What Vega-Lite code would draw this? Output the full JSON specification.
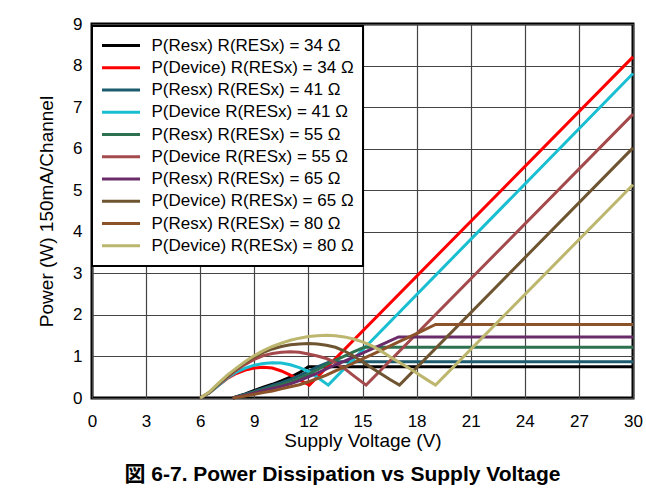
{
  "$schema": "https://vega.github.io/schema/vega-lite/v6.json",
  "width": 541,
  "height": 374,
  "autosize": {"type": "none"},
  "padding": {"left": 92, "top": 24, "right": 13, "bottom": 94},
  "background": "white",
  "title": {
    "text": "図 6-7. Power Dissipation vs Supply Voltage",
    "orient": "bottom",
    "anchor": "middle",
    "frame": "group",
    "dx": -20,
    "offset": 14,
    "fontSize": 21,
    "fontWeight": "bold",
    "font": "Liberation Sans, Noto Sans CJK JP",
    "color": "black"
  },
  "config": {
    "font": "Liberation Sans",
    "view": {"stroke": "black", "strokeWidth": 3},
    "axis": {
      "labelFont": "Liberation Sans",
      "labelFontSize": 17,
      "labelColor": "black",
      "titleFont": "Liberation Sans",
      "titleFontSize": 19,
      "titleFontWeight": "normal",
      "titleColor": "black",
      "gridColor": "#444444",
      "gridWidth": 1.2,
      "gridOpacity": 1,
      "ticks": false,
      "tickSize": 0,
      "domain": false
    }
  },
  "data": {
    "values": [
      {"s": "P(Resx) R(RESx) = 34 Ω", "v": 7.8, "p": 0},
      {"s": "P(Resx) R(RESx) = 34 Ω", "v": 8.5, "p": 0.1},
      {"s": "P(Resx) R(RESx) = 34 Ω", "v": 9, "p": 0.18},
      {"s": "P(Resx) R(RESx) = 34 Ω", "v": 9.5, "p": 0.26},
      {"s": "P(Resx) R(RESx) = 34 Ω", "v": 10, "p": 0.33},
      {"s": "P(Resx) R(RESx) = 34 Ω", "v": 10.5, "p": 0.41},
      {"s": "P(Resx) R(RESx) = 34 Ω", "v": 11, "p": 0.5},
      {"s": "P(Resx) R(RESx) = 34 Ω", "v": 11.5, "p": 0.61},
      {"s": "P(Resx) R(RESx) = 34 Ω", "v": 12, "p": 0.75},
      {"s": "P(Resx) R(RESx) = 34 Ω", "v": 30, "p": 0.75},

      {"s": "P(Device) R(RESx) = 34 Ω", "v": 6, "p": 0},
      {"s": "P(Device) R(RESx) = 34 Ω", "v": 6.5, "p": 0.12},
      {"s": "P(Device) R(RESx) = 34 Ω", "v": 7, "p": 0.3},
      {"s": "P(Device) R(RESx) = 34 Ω", "v": 7.5, "p": 0.47},
      {"s": "P(Device) R(RESx) = 34 Ω", "v": 8, "p": 0.59},
      {"s": "P(Device) R(RESx) = 34 Ω", "v": 8.5, "p": 0.67},
      {"s": "P(Device) R(RESx) = 34 Ω", "v": 9, "p": 0.72},
      {"s": "P(Device) R(RESx) = 34 Ω", "v": 9.5, "p": 0.74},
      {"s": "P(Device) R(RESx) = 34 Ω", "v": 10, "p": 0.72},
      {"s": "P(Device) R(RESx) = 34 Ω", "v": 10.5, "p": 0.65},
      {"s": "P(Device) R(RESx) = 34 Ω", "v": 11, "p": 0.55},
      {"s": "P(Device) R(RESx) = 34 Ω", "v": 11.5, "p": 0.44},
      {"s": "P(Device) R(RESx) = 34 Ω", "v": 12.05, "p": 0.31},
      {"s": "P(Device) R(RESx) = 34 Ω", "v": 30, "p": 8.21},

      {"s": "P(Resx) R(RESx) = 41 Ω", "v": 7.8, "p": 0},
      {"s": "P(Resx) R(RESx) = 41 Ω", "v": 8.5, "p": 0.09},
      {"s": "P(Resx) R(RESx) = 41 Ω", "v": 9, "p": 0.16},
      {"s": "P(Resx) R(RESx) = 41 Ω", "v": 9.5, "p": 0.23},
      {"s": "P(Resx) R(RESx) = 41 Ω", "v": 10, "p": 0.3},
      {"s": "P(Resx) R(RESx) = 41 Ω", "v": 10.5, "p": 0.37},
      {"s": "P(Resx) R(RESx) = 41 Ω", "v": 11, "p": 0.45},
      {"s": "P(Resx) R(RESx) = 41 Ω", "v": 11.5, "p": 0.54},
      {"s": "P(Resx) R(RESx) = 41 Ω", "v": 12, "p": 0.64},
      {"s": "P(Resx) R(RESx) = 41 Ω", "v": 12.5, "p": 0.75},
      {"s": "P(Resx) R(RESx) = 41 Ω", "v": 13.2, "p": 0.87},
      {"s": "P(Resx) R(RESx) = 41 Ω", "v": 30, "p": 0.87},

      {"s": "P(Device R(RESx) = 41 Ω", "v": 6, "p": 0},
      {"s": "P(Device R(RESx) = 41 Ω", "v": 6.5, "p": 0.12},
      {"s": "P(Device R(RESx) = 41 Ω", "v": 7, "p": 0.3},
      {"s": "P(Device R(RESx) = 41 Ω", "v": 7.5, "p": 0.48},
      {"s": "P(Device R(RESx) = 41 Ω", "v": 8, "p": 0.62},
      {"s": "P(Device R(RESx) = 41 Ω", "v": 8.5, "p": 0.72},
      {"s": "P(Device R(RESx) = 41 Ω", "v": 9, "p": 0.79},
      {"s": "P(Device R(RESx) = 41 Ω", "v": 9.5, "p": 0.83},
      {"s": "P(Device R(RESx) = 41 Ω", "v": 10, "p": 0.85},
      {"s": "P(Device R(RESx) = 41 Ω", "v": 10.5, "p": 0.84},
      {"s": "P(Device R(RESx) = 41 Ω", "v": 11, "p": 0.8},
      {"s": "P(Device R(RESx) = 41 Ω", "v": 11.5, "p": 0.73},
      {"s": "P(Device R(RESx) = 41 Ω", "v": 12, "p": 0.64},
      {"s": "P(Device R(RESx) = 41 Ω", "v": 12.5, "p": 0.5},
      {"s": "P(Device R(RESx) = 41 Ω", "v": 13.1, "p": 0.31},
      {"s": "P(Device R(RESx) = 41 Ω", "v": 30, "p": 7.81},

      {"s": "P(Resx) R(RESx) = 55 Ω", "v": 7.8, "p": 0},
      {"s": "P(Resx) R(RESx) = 55 Ω", "v": 8.5, "p": 0.08},
      {"s": "P(Resx) R(RESx) = 55 Ω", "v": 9, "p": 0.14},
      {"s": "P(Resx) R(RESx) = 55 Ω", "v": 9.5, "p": 0.2},
      {"s": "P(Resx) R(RESx) = 55 Ω", "v": 10, "p": 0.26},
      {"s": "P(Resx) R(RESx) = 55 Ω", "v": 10.5, "p": 0.32},
      {"s": "P(Resx) R(RESx) = 55 Ω", "v": 11, "p": 0.39},
      {"s": "P(Resx) R(RESx) = 55 Ω", "v": 11.5, "p": 0.47},
      {"s": "P(Resx) R(RESx) = 55 Ω", "v": 12, "p": 0.57},
      {"s": "P(Resx) R(RESx) = 55 Ω", "v": 12.5, "p": 0.68},
      {"s": "P(Resx) R(RESx) = 55 Ω", "v": 13, "p": 0.8},
      {"s": "P(Resx) R(RESx) = 55 Ω", "v": 13.5, "p": 0.91},
      {"s": "P(Resx) R(RESx) = 55 Ω", "v": 14, "p": 1.01},
      {"s": "P(Resx) R(RESx) = 55 Ω", "v": 14.5, "p": 1.11},
      {"s": "P(Resx) R(RESx) = 55 Ω", "v": 15.1, "p": 1.22},
      {"s": "P(Resx) R(RESx) = 55 Ω", "v": 30, "p": 1.22},

      {"s": "P(Device R(RESx) = 55 Ω", "v": 6, "p": 0},
      {"s": "P(Device R(RESx) = 55 Ω", "v": 6.5, "p": 0.13},
      {"s": "P(Device R(RESx) = 55 Ω", "v": 7, "p": 0.32},
      {"s": "P(Device R(RESx) = 55 Ω", "v": 7.5, "p": 0.5},
      {"s": "P(Device R(RESx) = 55 Ω", "v": 8, "p": 0.67},
      {"s": "P(Device R(RESx) = 55 Ω", "v": 8.5, "p": 0.81},
      {"s": "P(Device R(RESx) = 55 Ω", "v": 9, "p": 0.93},
      {"s": "P(Device R(RESx) = 55 Ω", "v": 9.5, "p": 1.02},
      {"s": "P(Device R(RESx) = 55 Ω", "v": 10, "p": 1.07},
      {"s": "P(Device R(RESx) = 55 Ω", "v": 10.5, "p": 1.1},
      {"s": "P(Device R(RESx) = 55 Ω", "v": 11, "p": 1.11},
      {"s": "P(Device R(RESx) = 55 Ω", "v": 11.5, "p": 1.1},
      {"s": "P(Device R(RESx) = 55 Ω", "v": 12, "p": 1.06},
      {"s": "P(Device R(RESx) = 55 Ω", "v": 12.5, "p": 1.01},
      {"s": "P(Device R(RESx) = 55 Ω", "v": 13, "p": 0.95},
      {"s": "P(Device R(RESx) = 55 Ω", "v": 13.5, "p": 0.85},
      {"s": "P(Device R(RESx) = 55 Ω", "v": 14, "p": 0.71},
      {"s": "P(Device R(RESx) = 55 Ω", "v": 14.5, "p": 0.54},
      {"s": "P(Device R(RESx) = 55 Ω", "v": 15.2, "p": 0.31},
      {"s": "P(Device R(RESx) = 55 Ω", "v": 30, "p": 6.83},

      {"s": "P(Resx) R(RESx) = 65 Ω", "v": 7.8, "p": 0},
      {"s": "P(Resx) R(RESx) = 65 Ω", "v": 8.5, "p": 0.07},
      {"s": "P(Resx) R(RESx) = 65 Ω", "v": 9, "p": 0.12},
      {"s": "P(Resx) R(RESx) = 65 Ω", "v": 9.5, "p": 0.18},
      {"s": "P(Resx) R(RESx) = 65 Ω", "v": 10, "p": 0.23},
      {"s": "P(Resx) R(RESx) = 65 Ω", "v": 10.5, "p": 0.28},
      {"s": "P(Resx) R(RESx) = 65 Ω", "v": 11, "p": 0.34},
      {"s": "P(Resx) R(RESx) = 65 Ω", "v": 11.5, "p": 0.42},
      {"s": "P(Resx) R(RESx) = 65 Ω", "v": 12, "p": 0.51},
      {"s": "P(Resx) R(RESx) = 65 Ω", "v": 12.5, "p": 0.6},
      {"s": "P(Resx) R(RESx) = 65 Ω", "v": 13, "p": 0.7},
      {"s": "P(Resx) R(RESx) = 65 Ω", "v": 13.5, "p": 0.8},
      {"s": "P(Resx) R(RESx) = 65 Ω", "v": 14, "p": 0.89},
      {"s": "P(Resx) R(RESx) = 65 Ω", "v": 15, "p": 1.08},
      {"s": "P(Resx) R(RESx) = 65 Ω", "v": 16, "p": 1.27},
      {"s": "P(Resx) R(RESx) = 65 Ω", "v": 17, "p": 1.47},
      {"s": "P(Resx) R(RESx) = 65 Ω", "v": 30, "p": 1.47},

      {"s": "P(Device) R(RESx) = 65 Ω", "v": 6, "p": 0},
      {"s": "P(Device) R(RESx) = 65 Ω", "v": 6.5, "p": 0.13},
      {"s": "P(Device) R(RESx) = 65 Ω", "v": 7, "p": 0.33},
      {"s": "P(Device) R(RESx) = 65 Ω", "v": 7.5, "p": 0.52},
      {"s": "P(Device) R(RESx) = 65 Ω", "v": 8, "p": 0.7},
      {"s": "P(Device) R(RESx) = 65 Ω", "v": 8.5, "p": 0.86},
      {"s": "P(Device) R(RESx) = 65 Ω", "v": 9, "p": 0.99},
      {"s": "P(Device) R(RESx) = 65 Ω", "v": 9.5, "p": 1.1},
      {"s": "P(Device) R(RESx) = 65 Ω", "v": 10, "p": 1.18},
      {"s": "P(Device) R(RESx) = 65 Ω", "v": 10.5, "p": 1.24},
      {"s": "P(Device) R(RESx) = 65 Ω", "v": 11, "p": 1.28},
      {"s": "P(Device) R(RESx) = 65 Ω", "v": 11.5, "p": 1.3},
      {"s": "P(Device) R(RESx) = 65 Ω", "v": 12, "p": 1.31},
      {"s": "P(Device) R(RESx) = 65 Ω", "v": 12.5, "p": 1.3},
      {"s": "P(Device) R(RESx) = 65 Ω", "v": 13, "p": 1.27},
      {"s": "P(Device) R(RESx) = 65 Ω", "v": 13.5, "p": 1.22},
      {"s": "P(Device) R(RESx) = 65 Ω", "v": 14, "p": 1.13},
      {"s": "P(Device) R(RESx) = 65 Ω", "v": 14.5, "p": 1.01},
      {"s": "P(Device) R(RESx) = 65 Ω", "v": 15, "p": 0.87},
      {"s": "P(Device) R(RESx) = 65 Ω", "v": 15.5, "p": 0.73},
      {"s": "P(Device) R(RESx) = 65 Ω", "v": 16, "p": 0.59},
      {"s": "P(Device) R(RESx) = 65 Ω", "v": 16.5, "p": 0.45},
      {"s": "P(Device) R(RESx) = 65 Ω", "v": 17.05, "p": 0.31},
      {"s": "P(Device) R(RESx) = 65 Ω", "v": 30, "p": 6.02},

      {"s": "P(Resx) R(RESx) = 80 Ω", "v": 7.8, "p": 0},
      {"s": "P(Resx) R(RESx) = 80 Ω", "v": 8.5, "p": 0.05},
      {"s": "P(Resx) R(RESx) = 80 Ω", "v": 9, "p": 0.09},
      {"s": "P(Resx) R(RESx) = 80 Ω", "v": 9.5, "p": 0.13},
      {"s": "P(Resx) R(RESx) = 80 Ω", "v": 10, "p": 0.17},
      {"s": "P(Resx) R(RESx) = 80 Ω", "v": 10.5, "p": 0.22},
      {"s": "P(Resx) R(RESx) = 80 Ω", "v": 11, "p": 0.27},
      {"s": "P(Resx) R(RESx) = 80 Ω", "v": 11.5, "p": 0.32},
      {"s": "P(Resx) R(RESx) = 80 Ω", "v": 12, "p": 0.39},
      {"s": "P(Resx) R(RESx) = 80 Ω", "v": 12.5, "p": 0.47},
      {"s": "P(Resx) R(RESx) = 80 Ω", "v": 13, "p": 0.55},
      {"s": "P(Resx) R(RESx) = 80 Ω", "v": 13.5, "p": 0.65},
      {"s": "P(Resx) R(RESx) = 80 Ω", "v": 14, "p": 0.74},
      {"s": "P(Resx) R(RESx) = 80 Ω", "v": 15, "p": 0.94},
      {"s": "P(Resx) R(RESx) = 80 Ω", "v": 16, "p": 1.14},
      {"s": "P(Resx) R(RESx) = 80 Ω", "v": 17, "p": 1.35},
      {"s": "P(Resx) R(RESx) = 80 Ω", "v": 18, "p": 1.55},
      {"s": "P(Resx) R(RESx) = 80 Ω", "v": 19.05, "p": 1.77},
      {"s": "P(Resx) R(RESx) = 80 Ω", "v": 30, "p": 1.77},

      {"s": "P(Device) R(RESx) = 80 Ω", "v": 6, "p": 0},
      {"s": "P(Device) R(RESx) = 80 Ω", "v": 6.5, "p": 0.14},
      {"s": "P(Device) R(RESx) = 80 Ω", "v": 7, "p": 0.35},
      {"s": "P(Device) R(RESx) = 80 Ω", "v": 7.5, "p": 0.55},
      {"s": "P(Device) R(RESx) = 80 Ω", "v": 8, "p": 0.72},
      {"s": "P(Device) R(RESx) = 80 Ω", "v": 8.5, "p": 0.88},
      {"s": "P(Device) R(RESx) = 80 Ω", "v": 9, "p": 1.02},
      {"s": "P(Device) R(RESx) = 80 Ω", "v": 9.5, "p": 1.14},
      {"s": "P(Device) R(RESx) = 80 Ω", "v": 10, "p": 1.24},
      {"s": "P(Device) R(RESx) = 80 Ω", "v": 10.5, "p": 1.32},
      {"s": "P(Device) R(RESx) = 80 Ω", "v": 11, "p": 1.39},
      {"s": "P(Device) R(RESx) = 80 Ω", "v": 11.5, "p": 1.44},
      {"s": "P(Device) R(RESx) = 80 Ω", "v": 12, "p": 1.48},
      {"s": "P(Device) R(RESx) = 80 Ω", "v": 12.5, "p": 1.5},
      {"s": "P(Device) R(RESx) = 80 Ω", "v": 13, "p": 1.51},
      {"s": "P(Device) R(RESx) = 80 Ω", "v": 13.5, "p": 1.5},
      {"s": "P(Device) R(RESx) = 80 Ω", "v": 14, "p": 1.47},
      {"s": "P(Device) R(RESx) = 80 Ω", "v": 14.5, "p": 1.42},
      {"s": "P(Device) R(RESx) = 80 Ω", "v": 15, "p": 1.35},
      {"s": "P(Device) R(RESx) = 80 Ω", "v": 15.5, "p": 1.26},
      {"s": "P(Device) R(RESx) = 80 Ω", "v": 16, "p": 1.14},
      {"s": "P(Device) R(RESx) = 80 Ω", "v": 16.5, "p": 1.0},
      {"s": "P(Device) R(RESx) = 80 Ω", "v": 17, "p": 0.87},
      {"s": "P(Device) R(RESx) = 80 Ω", "v": 17.5, "p": 0.74},
      {"s": "P(Device) R(RESx) = 80 Ω", "v": 18, "p": 0.6},
      {"s": "P(Device) R(RESx) = 80 Ω", "v": 18.5, "p": 0.46},
      {"s": "P(Device) R(RESx) = 80 Ω", "v": 19.05, "p": 0.31},
      {"s": "P(Device) R(RESx) = 80 Ω", "v": 30, "p": 5.13}
    ]
  },
  "mark": {"type": "line", "strokeWidth": 3, "interpolate": "linear"},
  "encoding": {
    "x": {
      "field": "v",
      "type": "quantitative",
      "scale": {"domain": [0, 30], "nice": false, "zero": false},
      "axis": {
        "values": [0, 3, 6, 9, 12, 15, 18, 21, 24, 27, 30],
        "title": "Supply Voltage (V)",
        "labelPadding": 15,
        "titlePadding": 2,
        "labelFlush": false
      }
    },
    "y": {
      "field": "p",
      "type": "quantitative",
      "scale": {"domain": [0, 9], "nice": false},
      "axis": {
        "values": [0, 1, 2, 3, 4, 5, 6, 7, 8, 9],
        "title": "Power (W) 150mA/Channel",
        "labelPadding": 10,
        "titlePadding": 16,
        "labelFlush": false
      }
    },
    "color": {
      "field": "s",
      "type": "nominal",
      "scale": {
        "domain": [
          "P(Resx) R(RESx) = 34 Ω",
          "P(Device) R(RESx) = 34 Ω",
          "P(Resx) R(RESx) = 41 Ω",
          "P(Device R(RESx) = 41 Ω",
          "P(Resx) R(RESx) = 55 Ω",
          "P(Device R(RESx) = 55 Ω",
          "P(Resx) R(RESx) = 65 Ω",
          "P(Device) R(RESx) = 65 Ω",
          "P(Resx) R(RESx) = 80 Ω",
          "P(Device) R(RESx) = 80 Ω"
        ],
        "range": ["#000000", "#ff0000", "#1d5c6e", "#19bfd0", "#2e7151", "#a44a4c", "#6a2c68", "#6e5430", "#8c522a", "#bcb66e"]
      },
      "legend": {
        "title": null,
        "orient": "none",
        "legendX": 0,
        "legendY": 2,
        "direction": "vertical",
        "fillColor": "white",
        "strokeColor": "black",
        "padding": 8.5,
        "symbolType": "stroke",
        "symbolSize": 1444,
        "symbolStrokeWidth": 3,
        "symbolOpacity": 1,
        "clipHeight": 22,
        "rowPadding": 0.25,
        "labelOffset": 10,
        "labelFont": "Liberation Sans",
        "labelFontSize": 17,
        "labelColor": "black",
        "labelLimit": 400,
        "encode": {
          "legend": {"update": {"strokeWidth": {"value": 2}}}
        }
      }
    }
  }
}
